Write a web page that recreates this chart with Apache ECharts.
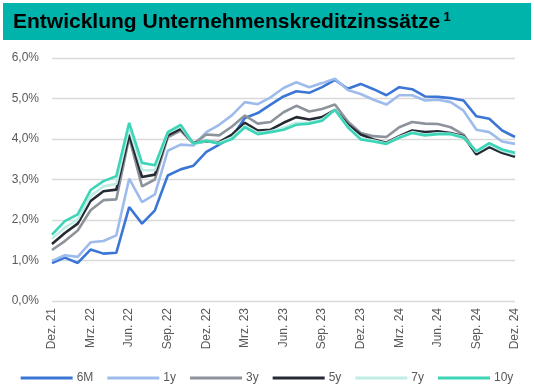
<!DOCTYPE html>
<html><head><meta charset="utf-8">
<script src="https://cdn.jsdelivr.net/npm/echarts@6/dist/echarts.min.js"></script>
<style>html,body{margin:0;padding:0;background:#fff}#c{width:534px;height:390px}</style>
</head><body><div id="c"></div>
<script>
const categories = ["Dez. 21","Jan. 22","Feb. 22","Mrz. 22","Apr. 22","Mai. 22","Jun. 22","Jul. 22","Aug. 22","Sep. 22","Okt. 22","Nov. 22",
"Dez. 22","Jan. 23","Feb. 23","Mrz. 23","Apr. 23","Mai. 23","Jun. 23","Jul. 23","Aug. 23","Sep. 23","Okt. 23","Nov. 23",
"Dez. 23","Jan. 24","Feb. 24","Mrz. 24","Apr. 24","Mai. 24","Jun. 24","Jul. 24","Aug. 24","Sep. 24","Okt. 24","Nov. 24","Dez. 24"];
const s6M = [0.94,1.07,0.94,1.27,1.17,1.19,2.32,1.91,2.24,3.10,3.25,3.34,3.68,3.86,4.05,4.52,4.64,4.85,5.05,5.18,5.14,5.28,5.46,5.24,5.36,5.23,5.08,5.28,5.23,5.05,5.04,5.01,4.95,4.56,4.50,4.21,4.05];
const s1y = [0.99,1.13,1.09,1.45,1.48,1.62,3.02,2.44,2.63,3.71,3.86,3.84,4.17,4.35,4.59,4.91,4.86,5.03,5.26,5.40,5.28,5.38,5.49,5.21,5.11,4.97,4.85,5.08,5.08,4.95,4.97,4.91,4.70,4.23,4.17,3.94,3.88];
const s3y = [1.26,1.48,1.74,2.24,2.49,2.51,4.04,2.83,3.00,4.04,4.21,3.88,4.11,4.09,4.31,4.58,4.38,4.42,4.66,4.82,4.68,4.74,4.85,4.43,4.15,4.07,4.05,4.29,4.42,4.38,4.37,4.29,4.11,3.66,3.82,3.66,3.58];
const s5y = [1.41,1.68,1.91,2.47,2.71,2.75,4.11,3.06,3.12,4.09,4.25,3.90,3.94,3.92,4.11,4.40,4.21,4.23,4.40,4.54,4.48,4.54,4.72,4.36,4.11,3.99,3.91,4.07,4.21,4.17,4.19,4.15,4.07,3.62,3.80,3.66,3.56];
const s7y = [1.54,1.81,2.01,2.59,2.83,2.89,4.27,3.23,3.23,4.15,4.31,3.88,3.95,3.90,4.04,4.33,4.15,4.19,4.28,4.40,4.40,4.48,4.72,4.31,4.02,3.96,3.89,4.05,4.17,4.11,4.14,4.13,4.05,3.68,3.86,3.71,3.62];
const s10y = [1.64,1.97,2.14,2.74,2.96,3.08,4.40,3.41,3.35,4.17,4.35,3.88,3.96,3.88,4.00,4.29,4.12,4.17,4.23,4.35,4.38,4.45,4.72,4.29,3.99,3.94,3.88,4.03,4.15,4.09,4.12,4.12,4.03,3.70,3.90,3.74,3.66];
const seriesNames = ["6M","1y","3y","5y","7y","10y"];
const seriesData = [s6M,s1y,s3y,s5y,s7y,s10y];
const colors = ["#3B76D6","#9EBCEB","#8D939B","#252A33","#BFEDE6","#3DD5B8"];
const titleText = "Entwicklung Unternehmenskreditzinssätze";

const chart = echarts.init(document.getElementById('c'), null, {renderer:'canvas'});
const font = "'Liberation Sans', Arial, sans-serif";
chart.setOption({
  animation:false,
  color: colors,
  textStyle:{fontFamily:font},
  graphic:[
    {type:'rect', shape:{x:3,y:3,width:528,height:37}, style:{fill:'#00B3AB'}},
    {type:'text', x:13, y:22, style:{text:'{a|'+titleText+'} {s|1}', verticalAlign:'middle',
      rich:{a:{fontFamily:font,fontWeight:'bold',fontSize:21,color:'#fff'},
            s:{fontFamily:font,fontWeight:'bold',fontSize:13,color:'#fff',verticalAlign:'top',padding:[0,0,10,0]}}}}
  ],
  grid:{left:52,right:19,top:58,bottom:89,containLabel:false},
  legend:{bottom:1,left:'center',icon:'rect',itemWidth:52,itemHeight:3,itemGap:14,
    textStyle:{fontSize:12,color:'#595959',fontFamily:font,padding:[0,0,0,-1]},
    data:seriesNames},
  xAxis:{type:'category',data:categories,boundaryGap:false,
    axisLine:{show:false},axisTick:{show:false},
    axisLabel:{rotate:90,interval:2,fontSize:12,color:'#595959',margin:7,fontFamily:font}},
  yAxis:{type:'value',min:0,max:6,interval:1,
    axisLabel:{fontSize:12,color:'#595959',margin:13,fontFamily:font,formatter:v=>v.toFixed(1).replace('.',',')+'%'},
    splitLine:{lineStyle:{color:'#D9D9D9',width:1.3}},
    axisLine:{show:false},axisTick:{show:false}},
  series: seriesNames.map((n,i)=>({name:n,type:'line',data:seriesData[i],symbol:'none',
     lineStyle:{width:2.6,color:colors[i]},itemStyle:{color:colors[i]}}))
});
</script></body></html>
